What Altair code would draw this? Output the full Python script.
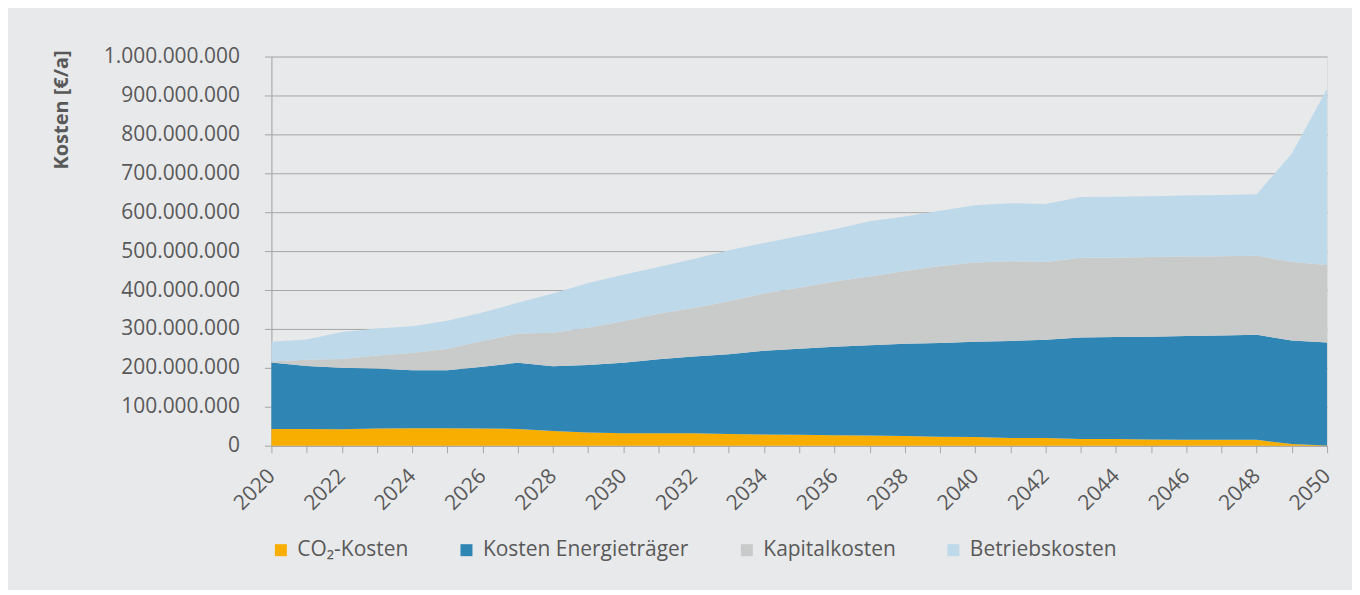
import altair as alt
import pandas as pd

years = list(range(2020, 2051))

# values in million EUR per year (component, not cumulative)
co2_kosten = [43, 43, 42, 44, 45, 45, 44, 43, 38, 34, 32, 32, 32, 30, 29, 28, 27, 26, 25, 23,
              22, 20, 20, 17, 17, 16, 15, 15, 15, 4, 0.5]
kosten_energietraeger = [171, 162, 158, 154, 149, 149, 159, 170, 166, 173, 181, 190, 197, 205, 215,
                         221, 227, 232, 237, 241, 245, 249, 252, 261, 262, 264, 267, 268, 270, 266, 264.5]
kapitalkosten = [2, 16, 23, 34, 44, 55, 66, 75, 86, 96, 107, 117, 125, 136, 147, 157, 168, 177, 187,
                 198, 204, 205, 200, 205, 204, 205, 204, 204, 203, 202, 199]
betriebskosten = [51, 52, 69, 69, 69, 72, 73, 79, 101, 115, 119, 120, 126, 131, 130, 133, 134, 142,
                  140, 142, 147, 149, 149, 156, 157, 156, 157, 157, 158, 279, 453]

categories = ["CO₂-Kosten", "Kosten Energieträger", "Kapitalkosten", "Betriebskosten"]
colors = ["#F7AE00", "#2F86B4", "#C9CACA", "#BED9EA"]
series = [co2_kosten, kosten_energietraeger, kapitalkosten, betriebskosten]

rows = []
for ci, (cat, vals) in enumerate(zip(categories, series)):
    for y, v in zip(years, vals):
        rows.append({"Jahr": y, "Kategorie": cat, "Kosten": v * 1e6, "ord": ci})
df = pd.DataFrame(rows)

TXT = "#595959"
FONT = "Open Sans"
LINE = "#A6A6A6"

chart = alt.Chart(df).mark_area(opacity=1, interpolate="linear").encode(
    x=alt.X("Jahr:Q",
            scale=alt.Scale(domain=[2020, 2050], nice=False, zero=False),
            axis=alt.Axis(title=None, values=years, format="d",
                          labelExpr="datum.value % 2 == 0 ? datum.label : ''",
                          labelAngle=-45, labelAlign="right", labelBaseline="middle",
                          labelPadding=20, labelFlush=False, labelOverlap=False, labelBound=False,
                          tickSize=7, tickColor=LINE, domainColor=LINE, grid=False,
                          labelFont=FONT, labelFontSize=21, labelColor=TXT)),
    y=alt.Y("Kosten:Q", stack="zero",
            scale=alt.Scale(domain=[0, 1e9], nice=False),
            axis=alt.Axis(title="Kosten [€/a]", values=[i * 1e8 for i in range(11)], format=",d",
                          tickSize=7, tickColor=LINE, domainColor=LINE,
                          grid=True, gridColor=LINE, gridWidth=1,
                          labelPadding=25, labelFont=FONT, labelFontSize=21, labelColor=TXT,
                          titleFont=FONT, titleFontSize=20, titleFontWeight="bold", titleColor=TXT,
                          titleAngle=-90, titleAlign="center", titleBaseline="alphabetic",
                          titleX=-204, titleY=53)),
    color=alt.Color("Kategorie:N",
                    scale=alt.Scale(domain=categories, range=colors),
                    legend=alt.Legend(title=None, orient="none", legendX=-1, legendY=484,
                                      direction="horizontal", columns=4, columnPadding=47,
                                      symbolType="square", symbolSize=144, symbolStrokeWidth=0,
                                      symbolOpacity=1, labelOffset=6, padding=0,
                                      labelFont=FONT, labelFontSize=21, labelColor=TXT,
                                      labelLimit=400)),
    order=alt.Order("ord:Q", sort="ascending"),
).properties(
    width=1058, height=390,
    padding={"left": 264, "top": 48, "right": 25, "bottom": 144},
    autosize=alt.AutoSizeParams(type="none"),
    background="#E8E9EB",
).configure_view(
    fill="white", strokeWidth=0
).configure(
    locale={"number": {"decimal": ",", "thousands": ".", "grouping": [3], "currency": ["", " €"]}}
)

chart.save("out.html", embed_options={"renderer": "svg", "actions": False})
